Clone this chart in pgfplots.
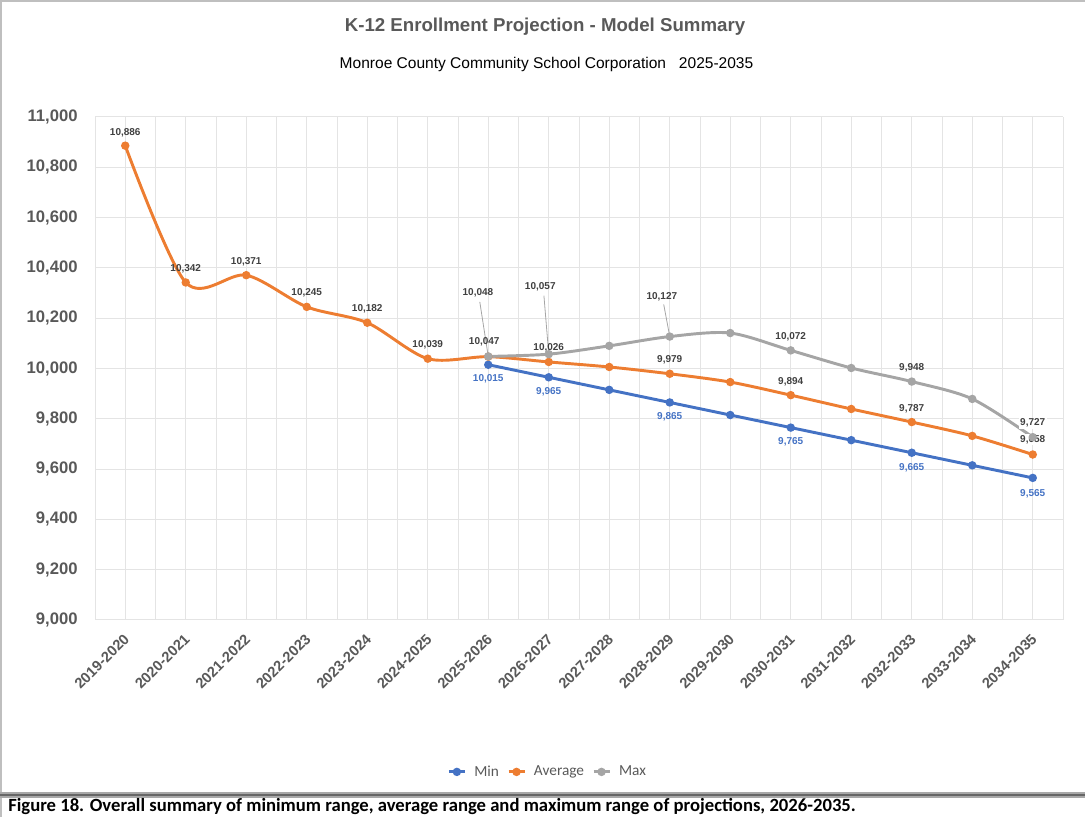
\documentclass[border=0pt]{standalone}
\usepackage{pgfplots}
\pgfplotsset{compat=1.18}
\usepackage{fontspec}
\setmainfont{Liberation Sans}
\newfontfamily\carlito{Carlito}
\definecolor{cmin}{HTML}{4472C4}
\definecolor{cavg}{HTML}{ED7D31}
\definecolor{cmax}{HTML}{A5A5A5}
\definecolor{gridc}{HTML}{E4E4E4}
\definecolor{tickc}{HTML}{595959}
\definecolor{lblc}{HTML}{404040}
\definecolor{framec}{HTML}{BFBFBF}
\definecolor{sepc}{HTML}{A8A8A8}

\pgfplotstableread{
x y
0 10886
1 10342
2 10371
3 10245
4 10182
5 10039
6 10047
7 10026
8 10006
9 9979
10 9946
11 9894
12 9839
13 9787
14 9732
15 9658
}\avgdata
\pgfplotstableread{
x y
6 10015
7 9965
8 9915
9 9865
10 9815
11 9765
12 9715
13 9665
14 9615
15 9565
}\mindata
\pgfplotstableread{
x y
6 10048
7 10057
8 10090
9 10127
10 10141
11 10072
12 10002
13 9948
14 9879
15 9727
}\maxdata

\begin{document}
\begin{tikzpicture}
\useasboundingbox (0,0) rectangle (813.75pt,612.75pt);
% frame
\draw[framec, line width=1.5pt] (0,611.75pt) -- (813.75pt,611.75pt);
\draw[framec, line width=1.5pt] (1.1pt,0) -- (1.1pt,612.75pt);
\draw[sepc, line width=4pt] (0,16.5pt) -- (813.75pt,16.5pt);
\draw[black!60, line width=1.8pt] (0,16.5pt) -- (813.75pt,16.5pt);

% titles
\node[anchor=base, font=\bfseries\fontsize{14}{16}\selectfont, text=tickc] at (408.75pt,588.75pt) {K-12 Enrollment Projection - Model Summary};
\node[anchor=base, font=\fontsize{11.65}{13}\selectfont, text=black] at (409.9pt,561pt) {Monroe County Community School Corporation\ \ \ 2025-2035};

% caption
\node[anchor=base west, font=\carlito\bfseries\fontsize{14}{16}\selectfont, inner sep=0pt] at (6pt,3.75pt) {Figure 18. Overall summary of minimum range, average range and maximum range of projections, 2026-2035.};

\begin{axis}[
  at={(71.25pt,147.75pt)}, anchor=south west,
  scale only axis, width=726pt, height=377.25pt,
  xmin=-0.5, xmax=15.5, ymin=9000, ymax=11000,
  xtick={0,...,15},
  xticklabels={2019-2020,2020-2021,2021-2022,2022-2023,2023-2024,2024-2025,2025-2026,2026-2027,2027-2028,2028-2029,2029-2030,2030-2031,2031-2032,2032-2033,2033-2034,2034-2035},
  minor xtick={-0.5,0.5,...,15.5},
  ytick={9000,9200,...,11000},
  scaled y ticks=false,
  yticklabel={\pgfmathprintnumber[1000 sep={,},fixed,precision=0,assume math mode=true]{\tick}},
  grid=both,
  major grid style={gridc, line width=0.75pt},
  minor grid style={gridc, line width=0.75pt},
  axis line style={draw=none},
  major tick length=0pt, minor tick length=0pt,
  yticklabel style={font=\bfseries\fontsize{12.5}{14}\selectfont, text=tickc, xshift=-9.5pt},
  xticklabel style={font=\bfseries\fontsize{11}{13}\selectfont, text=tickc, rotate=45, anchor=north east, inner sep=0pt, xshift=-8pt, yshift=-5.5pt},
  legend columns=3,
  legend style={at={(0.468,-0.302)}, anchor=center, draw=none, fill=none, font=\carlito\fontsize{11.5}{13}\selectfont, text=tickc, column sep=4pt},
  legend image code/.code={\draw[#1, mark repeat=2, mark phase=2] plot coordinates {(0pt,0pt) (6pt,0pt) (12pt,0pt)};},
  legend cell align=left,
  clip=false,
]
\addplot[cmin, line width=2.2pt, mark=*, mark size=2pt, mark options={fill=cmin}] table {\mindata};
\addlegendentry{Min}
\addplot[cavg, line width=2.2pt, smooth, mark=*, mark size=2pt, mark options={fill=cavg}] table {\avgdata};
\addlegendentry{Average}
\addplot[cmax, line width=2.2pt, smooth, mark=*, mark size=2pt, mark options={fill=cmax}] table {\maxdata};
\addlegendentry{Max}

% leader lines for max labels
\draw[cmax, line width=0.6pt] (axis cs:5.86,10265) -- (axis cs:6,10048);
\draw[cmax, line width=0.6pt] (axis cs:6.92,10290) -- (axis cs:7,10057);
\draw[cmax, line width=0.6pt] (axis cs:8.9,10255) -- (axis cs:9,10127);

\tikzset{lbl/.style={font=\bfseries\fontsize{7.5}{9}\selectfont, text=lblc, inner sep=1pt}}
\tikzset{lblm/.style={font=\bfseries\fontsize{7.5}{9}\selectfont, text=cmin, inner sep=1pt}}
% average labels
\node[lbl] at (axis cs:0,10886) [yshift=10pt] {10,886};
\node[lbl] at (axis cs:1,10342) [yshift=10.5pt] {10,342};
\node[lbl] at (axis cs:2,10371) [yshift=10pt] {10,371};
\node[lbl] at (axis cs:3,10245) [yshift=10.5pt] {10,245};
\node[lbl] at (axis cs:4,10182) [yshift=10.5pt] {10,182};
\node[lbl] at (axis cs:5,10039) [yshift=10.5pt] {10,039};
\node[lbl] at (axis cs:6,10047) [yshift=11pt, xshift=-3pt] {10,047};
\node[lbl] at (axis cs:7,10026) [yshift=10.5pt] {10,026};
\node[lbl] at (axis cs:9,9979) [yshift=10.5pt] {9,979};
\node[lbl] at (axis cs:11,9894) [yshift=10pt] {9,894};
\node[lbl] at (axis cs:13,9787) [yshift=10pt] {9,787};
\node[lbl, fill=white] at (axis cs:15,9658) [yshift=11pt] {9,658};
% max labels
\node[lbl] at (axis cs:5.83,10300) {10,048};
\node[lbl] at (axis cs:6.86,10324) {10,057};
\node[lbl] at (axis cs:8.87,10284) {10,127};
\node[lbl] at (axis cs:11,10072) [yshift=10pt] {10,072};
\node[lbl] at (axis cs:13,9948) [yshift=10.5pt] {9,948};
\node[lbl, fill=white] at (axis cs:15,9727) [yshift=10.5pt] {9,727};
% min labels
\node[lblm] at (axis cs:6,10015) [yshift=-10.5pt] {10,015};
\node[lblm] at (axis cs:7,9965) [yshift=-11pt] {9,965};
\node[lblm] at (axis cs:9,9865) [yshift=-11pt] {9,865};
\node[lblm] at (axis cs:11,9765) [yshift=-11pt] {9,765};
\node[lblm] at (axis cs:13,9665) [yshift=-11.5pt] {9,665};
\node[lblm] at (axis cs:15,9565) [yshift=-12pt] {9,565};
\end{axis}
\end{tikzpicture}
\end{document}
